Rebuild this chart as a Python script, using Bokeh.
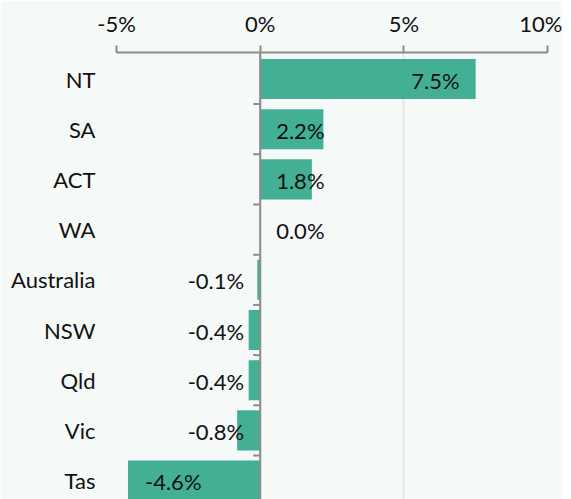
from bokeh.plotting import figure
from bokeh.models import Range1d, FixedTicker, Span, ColumnDataSource
from bokeh.embed import file_html
from bokeh.resources import INLINE
from bokeh.core.properties import value

# ---- data ----
categories = ["NT", "SA", "ACT", "WA", "Australia", "NSW", "Qld", "Vic", "Tas"]
changes = [7.5, 2.2, 1.8, 0.0, -0.1, -0.4, -0.4, -0.8, -4.6]
x_ticks = [-5, 0, 5, 10]
x_tick_labels = ["-5%", "0%", "5%", "10%"]

BAR = "#43b096"
BG = "#f5f9f8"
FONT = "Lato"
FS = "22px"

ypos = list(range(len(categories)))

p = figure(width=562, height=499, output_backend="svg", toolbar_location=None,
           x_range=Range1d(-5, 10), y_range=Range1d(8.376, -0.528),
           x_axis_location="above",
           min_border_left=116, min_border_right=15, min_border_top=52, min_border_bottom=0)
p.background_fill_color = BG
p.border_fill_color = BG
p.outline_line_color = None

# bars
src = ColumnDataSource(dict(y=ypos, v=changes))
p.hbar(y="y", left=0, right="v", height=0.8, source=src, color=BAR, line_color=None)

# zero line with small ticks between categories
p.add_layout(Span(location=0, dimension="height", line_color="#8c8c8c", line_width=2))
bounds = [i + 0.5 for i in ypos[:-1]]
tick_len = 7 / (431 / 15)
p.segment(x0=[0] * len(bounds), x1=[-tick_len] * len(bounds), y0=bounds, y1=bounds,
          line_color="#8c8c8c", line_width=2)

# value labels
lx, align, xoff, txt = [], [], [], []
for v in changes:
    txt.append(f"{v:.1f}%")
    if v >= 3:
        lx.append(v); align.append("right"); xoff.append(-16)
    elif v >= 0:
        lx.append(0); align.append("left"); xoff.append(16)
    elif v > -3:
        lx.append(0); align.append("right"); xoff.append(-16)
    else:
        lx.append(v); align.append("left"); xoff.append(17)
lsrc = ColumnDataSource(dict(x=lx, y=ypos, t=txt, a=align, xo=xoff))
p.text(x="x", y="y", text="t", text_align="a", x_offset="xo", y_offset=1,
       text_baseline="middle", source=lsrc, text_font=value(FONT),
       text_font_size=FS, text_color="#111111")

# axes
xa = p.xaxis[0]
xa.ticker = FixedTicker(ticks=x_ticks)
xa.major_label_overrides = {t: l for t, l in zip(x_ticks, x_tick_labels)}
xa.axis_line_color = "#8c8c8c"
xa.axis_line_width = 2
xa.major_tick_line_color = "#8c8c8c"
xa.major_tick_line_width = 2
xa.major_tick_out = 7
xa.major_tick_in = 0
xa.minor_tick_line_color = None
xa.major_label_standoff = 9
xa.major_label_text_font = FONT
xa.major_label_text_font_size = FS
xa.major_label_text_color = "#111111"

ya = p.yaxis[0]
ya.ticker = FixedTicker(ticks=ypos)
ya.major_label_overrides = {i: c for i, c in zip(ypos, categories)}
ya.axis_line_color = None
ya.major_tick_line_color = None
ya.minor_tick_line_color = None
ya.major_label_standoff = 15
ya.major_label_text_font = FONT
ya.major_label_text_font_size = FS
ya.major_label_text_color = "#111111"

p.xgrid.ticker = FixedTicker(ticks=x_ticks)
p.xgrid.grid_line_color = "#e8e6dc"
p.xgrid.grid_line_width = 2
p.ygrid.grid_line_color = None

open("out.html", "w").write(file_html(p, INLINE))
